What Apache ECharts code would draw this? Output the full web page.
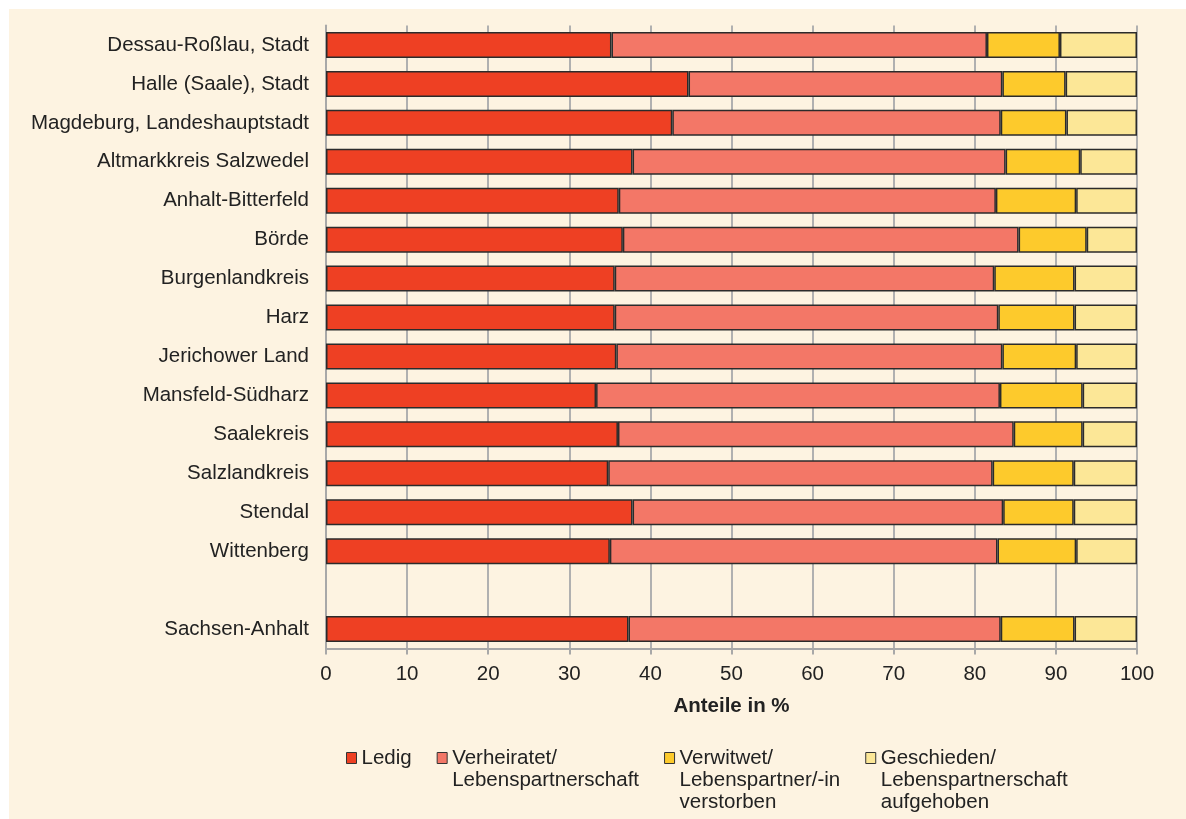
<!DOCTYPE html>
<html>
<head>
<meta charset="utf-8">
<script src="https://cdn.jsdelivr.net/npm/echarts@6/dist/echarts.min.js"></script>
<style>
html,body{margin:0;padding:0;background:#ffffff;}
#bg{position:absolute;left:9px;top:9px;width:1177px;height:810px;background:#fdf3e1;}
#c{position:absolute;left:0;top:0;width:1186px;height:819px;}
</style>
</head>
<body>
<div id="bg"></div>
<div id="c"></div>
<script>
const categories = [
  "Dessau-Roßlau, Stadt","Halle (Saale), Stadt","Magdeburg, Landeshauptstadt",
  "Altmarkkreis Salzwedel","Anhalt-Bitterfeld","Börde","Burgenlandkreis","Harz",
  "Jerichower Land","Mansfeld-Südharz","Saalekreis","Salzlandkreis","Stendal",
  "Wittenberg","","Sachsen-Anhalt"
];
const seriesNames = [
  "Ledig",
  "Verheiratet/\nLebenspartnerschaft",
  "Verwitwet/\nLebenspartner/-in\nverstorben",
  "Geschieden/\nLebenspartnerschaft\naufgehoben"
];
const ledig       = [35.2,44.7,42.7,37.8,36.1,36.6,35.6,35.6,35.8,33.3,36.0,34.8,37.8,35.0,null,37.3];
const verheiratet = [46.3,38.7,40.5,46.0,46.5,48.8,46.8,47.3,47.6,49.8,48.8,47.4,45.7,47.8,null,45.9];
const verwitwet   = [ 9.0, 7.8, 8.1, 9.2, 9.9, 8.4, 9.9, 9.4, 9.1,10.2, 8.5,10.0, 8.7, 9.7,null, 9.1];
const geschieden  = [ 9.5, 8.8, 8.7, 7.0, 7.5, 6.2, 7.7, 7.7, 7.5, 6.7, 6.7, 7.8, 7.8, 7.5,null, 7.7];
const xTicks = [0,10,20,30,40,50,60,70,80,90,100];

const colors = ["#ee4023","#f37767","#fdca2c","#fce797"];
const values = [ledig, verheiratet, verwitwet, geschieden];
const font = "'Liberation Sans', Arial, sans-serif";

const chart = echarts.init(document.getElementById('c'), null, {renderer:'canvas'});
chart.setOption({
  backgroundColor: 'transparent',
  animation: false,
  textStyle: {fontFamily: font},
  grid: {left: 326, right: 49, top: 25.5, bottom: 170.5, containLabel: false},
  xAxis: {
    type: 'value', min: xTicks[0], max: xTicks[xTicks.length-1], interval: 10,
    name: 'Anteile in %', nameLocation: 'middle', nameGap: 47,
    nameTextStyle: {fontSize: 20.5, fontWeight: 'bold', color: '#222', fontFamily: font},
    axisLine: {show: true, lineStyle: {color: '#a8a8a8', width: 2}},
    axisTick: {show: true, length: 6, lineStyle: {color: '#a8a8a8', width: 2}},
    axisLabel: {fontSize: 20.5, color: '#222', margin: 15, fontFamily: font},
    splitLine: {show: true, lineStyle: {color: '#b0b0b0', width: 2}}
  },
  yAxis: {
    type: 'category', data: categories, inverse: true,
    axisLine: {show: true, lineStyle: {color: '#a8a8a8', width: 2}},
    axisTick: {show: false},
    axisLabel: {fontSize: 20.5, color: '#222', margin: 17, fontFamily: font}
  },
  legend: {
    left: 341, top: 698, itemWidth: 10, itemHeight: 11, itemGap: 25,
    icon: 'rect',
    textStyle: {fontSize: 20.5, color: '#222', lineHeight: 22, fontFamily: font},
    formatter: function (name) {
      const n = name.split("\n").length;
      return "\n".repeat(n - 1) + name;
    },
    data: seriesNames.map(n => ({
      name: n,
      itemStyle: {borderColor: '#333', borderWidth: 1}
    }))
  },
  series: seriesNames.map((n, i) => ({
    name: n, type: 'bar', stack: 'total', barWidth: 26,
    data: values[i],
    itemStyle: {color: colors[i], borderColor: '#2b2b2b', borderWidth: 1.5},
    emphasis: {disabled: true}
  }))
});
</script>
</body>
</html>
